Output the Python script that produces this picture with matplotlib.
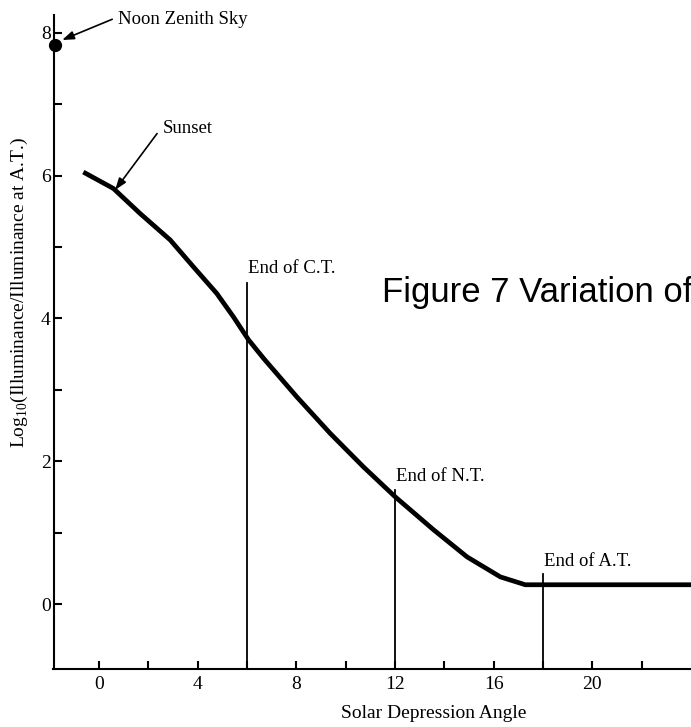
import matplotlib
matplotlib.use("Agg")
import matplotlib.pyplot as plt
from matplotlib.ticker import FixedLocator

plt.rcParams['font.family'] = ['Liberation Serif', 'DejaVu Serif']
plt.rcParams['mathtext.fontset'] = 'custom'
plt.rcParams['mathtext.rm'] = 'Liberation Serif'

# Data
curve_x = [-0.64, 0.58, 1.66, 2.88, 3.83, 4.77, 5.45, 6.06, 6.67, 8.02, 9.37,
           10.72, 12.01, 13.56, 14.92, 16.27, 17.28, 24.5]
curve_y = [6.05, 5.82, 5.47, 5.10, 4.72, 4.35, 4.02, 3.70, 3.44, 2.90, 2.39,
           1.92, 1.50, 1.04, 0.66, 0.38, 0.27, 0.27]
noon_x = [-1.78]
noon_y = [7.83]
end_x = [6, 12, 18]
end_top = [4.49, 1.60, 0.42]
end_labels = ["End of C.T.", "End of N.T.", "End of A.T."]
end_label_y = [4.70, 1.78, 0.59]
x_major = [0, 4, 8, 12, 16, 20]
x_minor = [2, 6, 10, 14, 18, 22]
y_major = [0, 2, 4, 6, 8]
y_minor = [1, 3, 5, 7]

W, H = 691, 727
fig = plt.figure(figsize=(W / 100, H / 100), dpi=100)
left_px, bottom_px, top_px = 53.5, 669, 15
ax = fig.add_axes([left_px / W, (H - bottom_px) / H, 1 - left_px / W,
                   (bottom_px - top_px) / H])
ax.set_xlim(-1.85, 24.0)
ax.set_ylim(-0.91, 8.25)

for s in ['top', 'right']:
    ax.spines[s].set_visible(False)
for s in ['left', 'bottom']:
    ax.spines[s].set_linewidth(1.5)

ax.xaxis.set_major_locator(FixedLocator(x_major))
ax.xaxis.set_minor_locator(FixedLocator(x_minor))
ax.yaxis.set_major_locator(FixedLocator(y_major))
ax.yaxis.set_minor_locator(FixedLocator(y_minor))
ax.tick_params(which='both', direction='in', length=6, width=1.5)
ax.tick_params(axis='x', labelsize=14, pad=5)
ax.tick_params(axis='y', labelsize=14, pad=2)

ax.plot(curve_x, curve_y, color='black', lw=3.4, solid_joinstyle='round',
        solid_capstyle='butt', clip_on=True)
ax.plot(noon_x, noon_y, 'o', color='black', markersize=8.5, clip_on=False,
        zorder=5)

ymin = ax.get_ylim()[0]
for xv, top, lab, ly in zip(end_x, end_top, end_labels, end_label_y):
    ax.plot([xv, xv], [ymin, top], color='black', lw=1.3)
    ax.text(xv + 0.03, ly, lab, fontsize=13.5, ha='left', va='center')

arrow = dict(arrowstyle='-|>,head_length=0.7,head_width=0.25', color='black',
             lw=1.2, shrinkA=0, shrinkB=0)
ax.annotate('', xy=(-1.5, 7.90), xytext=(0.53, 8.19), arrowprops=arrow,
            annotation_clip=False)
ax.text(0.77, 8.18, "Noon Zenith Sky", fontsize=13.5, ha='left', va='center',
        clip_on=False)
ax.annotate('', xy=(0.65, 5.80), xytext=(2.35, 6.59), arrowprops=arrow,
            annotation_clip=False)
ax.text(2.56, 6.66, "Sunset", fontsize=13.5, ha='left', va='center')

fig.text(434 / W, (H - 713) / H, "Solar Depression Angle", fontsize=14,
         ha='center', va='center')

fig.text(19 / W, (H - 292) / H,
         r"Log$_{\mathrm{10}}$(Illuminance/Illuminance at A.T.)",
         rotation=90, fontsize=14, ha='center', va='center')

fig.text(382 / W, (H - 302) / H, "Figure 7 Variation of",
         family=['Liberation Sans', 'DejaVu Sans'], fontsize=25,
         ha='left', va='baseline')

fig.savefig("out.png", dpi=100)
